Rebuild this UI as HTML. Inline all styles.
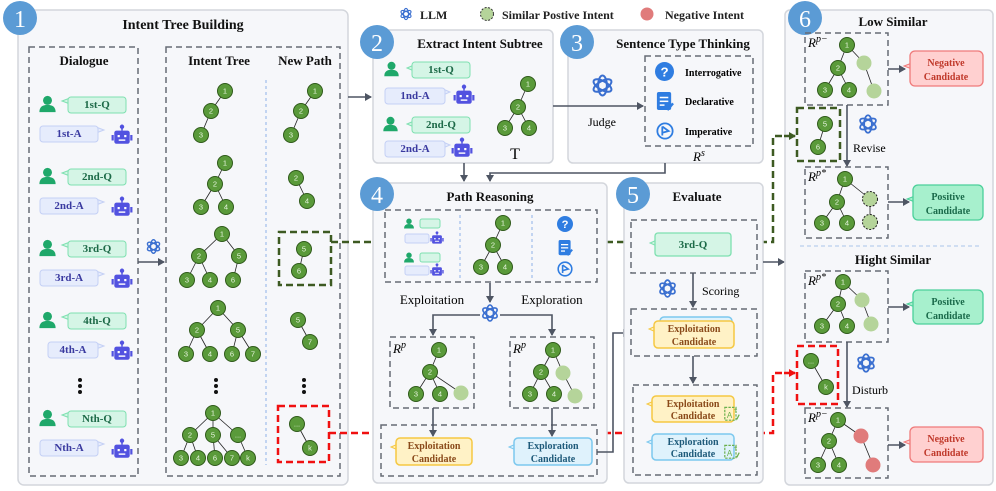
<!DOCTYPE html>
<html><head><meta charset="utf-8"><style>
body{margin:0;background:#fff}
svg{display:block;font-family:"Liberation Serif",serif}
.t{font-weight:bold;font-size:14px;text-anchor:middle;fill:#111}
.st{font-weight:bold;font-size:13px;text-anchor:middle;fill:#111}
.n{font-size:7.5px;fill:#e8f5e0;text-anchor:middle;dominant-baseline:central;font-family:"Liberation Sans",sans-serif}
.g circle{fill:#5a9a3a;stroke:#2f5a1a;stroke-width:1}
.e line{stroke:#222;stroke-width:.8}
.bq{font-weight:bold;font-size:11px;fill:#1d6a48;text-anchor:middle;dominant-baseline:central}
.ba{font-weight:bold;font-size:11px;fill:#3a3aa0;text-anchor:middle;dominant-baseline:central}
.by{font-weight:bold;font-size:10px;fill:#8a4a1a;text-anchor:middle}
.bb{font-weight:bold;font-size:10px;fill:#1e5a7a;text-anchor:middle}
.br{font-weight:bold;font-size:10px;fill:#c0392b;text-anchor:middle}
.bg{font-weight:bold;font-size:10px;fill:#1a6a4a;text-anchor:middle}
.dash{fill:none;stroke:#666b75;stroke-width:1.5;stroke-dasharray:6 4}
.pan{fill:#f6f7fa;stroke:#d3d6dc;stroke-width:1.5}
.bd{fill:#5b9bd5}
.bdt{fill:#fff;font-size:24px;text-anchor:middle;font-family:"Liberation Serif",serif}
.ar{stroke:#4e5563;stroke-width:1.6;fill:none;marker-end:url(#ah)}
.lb{font-size:12px;fill:#222}
.rp{font-size:13px;font-style:italic}
.rp tspan{font-size:10px}
</style></head><body>
<svg width="996" height="491" viewBox="0 0 996 491" xmlns="http://www.w3.org/2000/svg">
<defs>
<marker id="ah" markerWidth="8" markerHeight="8" refX="6" refY="4" orient="auto" markerUnits="userSpaceOnUse"><path d="M0,0 L7,4 L0,8 z" fill="#4e5563"/></marker>
<marker id="ag" markerWidth="8" markerHeight="8" refX="6" refY="4" orient="auto" markerUnits="userSpaceOnUse"><path d="M0,0 L7,4 L0,8 z" fill="#3d5a22"/></marker>
<marker id="ar" markerWidth="8" markerHeight="8" refX="6" refY="4" orient="auto" markerUnits="userSpaceOnUse"><path d="M0,0 L7,4 L0,8 z" fill="#f01010"/></marker>
<symbol id="person" viewBox="0 0 20 20"><circle cx="10" cy="6" r="5" fill="#1fa86a"/><path d="M1,19 Q1,11 10,11 Q19,11 19,19 z" fill="#1fa86a"/></symbol>
<symbol id="robot" viewBox="0 0 20 20"><circle cx="10" cy="2.5" r="2" fill="#5252e0"/><rect x="9.3" y="3" width="1.4" height="3" fill="#5252e0"/><rect x="3" y="6" width="14" height="12" rx="2" fill="#5252e0"/><rect x="0.5" y="10" width="2" height="5" fill="#5252e0"/><rect x="17.5" y="10" width="2" height="5" fill="#5252e0"/><rect x="6" y="10" width="2" height="2" fill="#fff"/><rect x="12" y="10" width="2" height="2" fill="#fff"/><rect x="7" y="14" width="6" height="1.3" fill="#fff"/></symbol>
<symbol id="llm" viewBox="0 0 20 20"><g fill="none" stroke="#3a6fd0" stroke-width="1.6"><ellipse cx="10" cy="10" rx="3.5" ry="8" /><ellipse cx="10" cy="10" rx="3.5" ry="8" transform="rotate(60 10 10)"/><ellipse cx="10" cy="10" rx="3.5" ry="8" transform="rotate(120 10 10)"/></g></symbol>
<symbol id="qi" viewBox="0 0 20 20"><circle cx="10" cy="10" r="10" fill="#2f7de1"/><text x="10" y="15" font-size="14" font-weight="bold" fill="#fff" text-anchor="middle" font-family="Liberation Sans">?</text></symbol>
<symbol id="di" viewBox="0 0 20 20"><rect x="2" y="0" width="15" height="19" rx="2" fill="#2f7de1"/><rect x="5" y="5" width="9" height="1.6" fill="#fff"/><rect x="5" y="9" width="9" height="1.6" fill="#fff"/><rect x="5" y="13" width="5" height="1.6" fill="#fff"/><path d="M13,19 L19,12" stroke="#2f7de1" stroke-width="2.5"/></symbol>
<symbol id="ii" viewBox="0 0 20 20"><circle cx="10" cy="10" r="8.5" fill="none" stroke="#2f7de1" stroke-width="2"/><path d="M7,5 L7,15 M7,5 L14,10 L7,12" fill="none" stroke="#2f7de1" stroke-width="2"/></symbol>
<symbol id="ai" viewBox="0 0 20 20"><rect x="1" y="3" width="14" height="16" fill="none" stroke="#6ab04c" stroke-width="1.5" stroke-dasharray="3 1.5"/><text x="7" y="16" font-size="10" fill="#6ab04c" font-family="Liberation Sans" text-anchor="middle">A</text><text x="12" y="9" font-size="8" fill="#6ab04c" font-family="Liberation Sans">+</text><path d="M16,18 L19,12" stroke="#6ab04c" stroke-width="1.6"/></symbol>
</defs>

<!-- Legend -->
<use href="#llm" x="399" y="7" width="14" height="14"/><text x="420" y="19" class="lb" font-weight="bold" font-size="12">LLM</text>
<circle cx="487" cy="14" r="6.5" fill="#b5d49a" stroke="#333" stroke-dasharray="2 1.5"/><text x="502" y="19" class="lb" font-weight="bold">Similar Postive Intent</text>
<circle cx="647" cy="14" r="6.5" fill="#e07b7b"/><text x="665" y="19" class="lb" font-weight="bold">Negative Intent</text>

<!-- Panel 1 -->
<rect x="18" y="10" width="330" height="475" rx="6" class="pan"/>
<circle cx="20" cy="18" r="17" class="bd"/><text x="20" y="27" class="bdt">1</text>
<text x="183" y="29" class="t">Intent Tree Building</text>
<rect x="29" y="47" width="109" height="429" class="dash"/>
<rect x="166" y="47" width="174" height="429" class="dash"/>
<text x="84" y="65" class="st">Dialogue</text>
<text x="219" y="65" class="st">Intent Tree</text>
<text x="305" y="65" class="st">New Path</text>
<line x1="266" y1="80" x2="266" y2="465" stroke="#8fb2e8" stroke-dasharray="3 3"/>

<g><use href="#person" x="38" y="95" width="19" height="18"/><polygon points="70,98 62,101 70,104" fill="#d5f5e6" stroke="#7ee0b0"/><rect x="68" y="97" width="58" height="16" rx="3" fill="#d5f5e6" stroke="#7ee0b0"/><text x="97" y="105" class="bq">1st-Q</text>
<polygon points="96,127 104,130 96,133" fill="#e6ecfc" stroke="#c4d0f5"/><rect x="40" y="126" width="58" height="16" rx="3" fill="#e6ecfc" stroke="#c4d0f5"/><text x="69" y="134" class="ba">1st-A</text><use href="#robot" x="111" y="124" width="22" height="22"/></g>
<g transform="translate(0,72)"><use href="#person" x="38" y="95" width="19" height="18"/><polygon points="70,98 62,101 70,104" fill="#d5f5e6" stroke="#7ee0b0"/><rect x="68" y="97" width="58" height="16" rx="3" fill="#d5f5e6" stroke="#7ee0b0"/><text x="97" y="105" class="bq">2nd-Q</text>
<polygon points="96,127 104,130 96,133" fill="#e6ecfc" stroke="#c4d0f5"/><rect x="40" y="126" width="58" height="16" rx="3" fill="#e6ecfc" stroke="#c4d0f5"/><text x="69" y="134" class="ba">2nd-A</text><use href="#robot" x="111" y="124" width="22" height="22"/></g>
<g transform="translate(0,144)"><use href="#person" x="38" y="95" width="19" height="18"/><polygon points="70,98 62,101 70,104" fill="#d5f5e6" stroke="#7ee0b0"/><rect x="68" y="97" width="58" height="16" rx="3" fill="#d5f5e6" stroke="#7ee0b0"/><text x="97" y="105" class="bq">3rd-Q</text>
<polygon points="96,127 104,130 96,133" fill="#e6ecfc" stroke="#c4d0f5"/><rect x="40" y="126" width="58" height="16" rx="3" fill="#e6ecfc" stroke="#c4d0f5"/><text x="69" y="134" class="ba">3rd-A</text><use href="#robot" x="111" y="124" width="22" height="22"/></g>
<g transform="translate(0,216)"><use href="#person" x="38" y="95" width="19" height="18"/><polygon points="70,98 62,101 70,104" fill="#d5f5e6" stroke="#7ee0b0"/><rect x="68" y="97" width="58" height="16" rx="3" fill="#d5f5e6" stroke="#7ee0b0"/><text x="97" y="105" class="bq">4th-Q</text>
<polygon points="96,127 104,130 96,133" fill="#e6ecfc" stroke="#c4d0f5"/><rect x="48" y="126" width="50" height="16" rx="3" fill="#e6ecfc" stroke="#c4d0f5"/><text x="73" y="134" class="ba">4th-A</text><use href="#robot" x="111" y="124" width="22" height="22"/></g>
<g transform="translate(0,314)"><use href="#person" x="38" y="95" width="19" height="18"/><polygon points="70,98 62,101 70,104" fill="#d5f5e6" stroke="#7ee0b0"/><rect x="68" y="97" width="58" height="16" rx="3" fill="#d5f5e6" stroke="#7ee0b0"/><text x="97" y="105" class="bq">Nth-Q</text>
<polygon points="96,127 104,130 96,133" fill="#e6ecfc" stroke="#c4d0f5"/><rect x="40" y="126" width="58" height="16" rx="3" fill="#e6ecfc" stroke="#c4d0f5"/><text x="69" y="134" class="ba">Nth-A</text><use href="#robot" x="111" y="124" width="22" height="22"/></g>
<g fill="#111"><circle cx="80" cy="380" r="2"/><circle cx="80" cy="386" r="2"/><circle cx="80" cy="392" r="2"/>
<circle cx="216" cy="380" r="2"/><circle cx="216" cy="386" r="2"/><circle cx="216" cy="392" r="2"/>
<circle cx="304" cy="380" r="2"/><circle cx="304" cy="386" r="2"/><circle cx="304" cy="392" r="2"/></g>
<use href="#llm" x="145" y="238" width="17" height="17"/>
<line x1="138" y1="262" x2="164" y2="262" class="ar"/>

<g class="e">
<line x1="225" y1="91" x2="211" y2="111"/><line x1="211" y1="111" x2="201" y2="135"/>
<line x1="225" y1="163" x2="215" y2="184"/><line x1="215" y1="184" x2="201" y2="207"/><line x1="215" y1="184" x2="226" y2="207"/>
<line x1="222" y1="234" x2="199" y2="256"/><line x1="222" y1="234" x2="239" y2="256"/><line x1="199" y1="256" x2="187" y2="280"/><line x1="199" y1="256" x2="210" y2="280"/><line x1="239" y1="256" x2="233" y2="280"/>
<line x1="218" y1="308" x2="197" y2="330"/><line x1="218" y1="308" x2="238" y2="330"/><line x1="197" y1="330" x2="186" y2="354"/><line x1="197" y1="330" x2="210" y2="354"/><line x1="238" y1="330" x2="232" y2="354"/><line x1="238" y1="330" x2="253" y2="354"/>
<line x1="213" y1="413" x2="190" y2="435"/><line x1="213" y1="413" x2="213" y2="435"/><line x1="213" y1="413" x2="238" y2="435"/><line x1="190" y1="435" x2="181" y2="458"/><line x1="190" y1="435" x2="198" y2="458"/><line x1="213" y1="435" x2="215" y2="458"/><line x1="213" y1="435" x2="232" y2="458"/><line x1="238" y1="435" x2="248" y2="458"/>
<line x1="315" y1="91" x2="301" y2="111"/><line x1="301" y1="111" x2="291" y2="135"/>
<line x1="296" y1="178" x2="307" y2="201"/><line x1="304" y1="249" x2="299" y2="271"/><line x1="298" y1="320" x2="310" y2="342"/><line x1="297" y1="424" x2="310" y2="448"/>
</g>
<g class="g">
<circle cx="225" cy="91" r="7.5"/><circle cx="211" cy="111" r="7.5"/><circle cx="201" cy="135" r="7.5"/>
<circle cx="225" cy="163" r="7.5"/><circle cx="215" cy="184" r="7.5"/><circle cx="201" cy="207" r="7.5"/><circle cx="226" cy="207" r="7.5"/>
<circle cx="222" cy="234" r="7.5"/><circle cx="199" cy="256" r="7.5"/><circle cx="239" cy="256" r="7.5"/><circle cx="187" cy="280" r="7.5"/><circle cx="210" cy="280" r="7.5"/><circle cx="233" cy="280" r="7.5"/>
<circle cx="218" cy="308" r="7.5"/><circle cx="197" cy="330" r="7.5"/><circle cx="238" cy="330" r="7.5"/><circle cx="186" cy="354" r="7.5"/><circle cx="210" cy="354" r="7.5"/><circle cx="232" cy="354" r="7.5"/><circle cx="253" cy="354" r="7.5"/>
<circle cx="213" cy="413" r="7.5"/><circle cx="190" cy="435" r="7.5"/><circle cx="213" cy="435" r="7.5"/><circle cx="238" cy="435" r="7.5"/><circle cx="181" cy="458" r="7.5"/><circle cx="198" cy="458" r="7.5"/><circle cx="215" cy="458" r="7.5"/><circle cx="232" cy="458" r="7.5"/><circle cx="248" cy="458" r="7.5"/>
<circle cx="315" cy="91" r="7.5"/><circle cx="301" cy="111" r="7.5"/><circle cx="291" cy="135" r="7.5"/>
<circle cx="296" cy="178" r="7.5"/><circle cx="307" cy="201" r="7.5"/>
<circle cx="304" cy="249" r="7.5"/><circle cx="299" cy="271" r="7.5"/>
<circle cx="298" cy="320" r="7.5"/><circle cx="310" cy="342" r="7.5"/>
<circle cx="297" cy="424" r="7.5"/><circle cx="310" cy="448" r="7.5"/>
</g>
<g class="n">
<text x="225" y="91">1</text><text x="211" y="111">2</text><text x="201" y="135">3</text>
<text x="225" y="163">1</text><text x="215" y="184">2</text><text x="201" y="207">3</text><text x="226" y="207">4</text>
<text x="222" y="234">1</text><text x="199" y="256">2</text><text x="239" y="256">5</text><text x="187" y="280">3</text><text x="210" y="280">4</text><text x="233" y="280">6</text>
<text x="218" y="308">1</text><text x="197" y="330">2</text><text x="238" y="330">5</text><text x="186" y="354">3</text><text x="210" y="354">4</text><text x="232" y="354">6</text><text x="253" y="354">7</text>
<text x="213" y="413">1</text><text x="190" y="435">2</text><text x="213" y="435">5</text><text x="238" y="435">...</text><text x="181" y="458">3</text><text x="198" y="458">4</text><text x="215" y="458">6</text><text x="232" y="458">7</text><text x="248" y="458">k</text>
<text x="315" y="91">1</text><text x="301" y="111">2</text><text x="291" y="135">3</text>
<text x="296" y="178">2</text><text x="307" y="201">4</text>
<text x="304" y="249">5</text><text x="299" y="271">6</text>
<text x="298" y="320">5</text><text x="310" y="342">7</text>
<text x="297" y="424">...</text><text x="310" y="448">k</text>
</g>
<rect x="279" y="232" width="52" height="53" fill="none" stroke="#3d5a22" stroke-width="2.5" stroke-dasharray="7 4"/>
<rect x="278" y="406" width="51" height="56" fill="none" stroke="#f01010" stroke-width="2.5" stroke-dasharray="7 4"/>

<!-- dashed connectors (behind later panels) -->
<polyline points="331,242 773,242 773,136 786,136" fill="none" stroke="#3d5a22" stroke-width="2.5" stroke-dasharray="7 4"/>
<polyline points="329,433 773,433 773,373 786,373" fill="none" stroke="#f01010" stroke-width="2.5" stroke-dasharray="7 4"/>

<line x1="348" y1="97" x2="371" y2="97" class="ar"/>

<!-- Panel 2 -->
<rect x="373" y="30" width="180" height="133" rx="5" class="pan"/>
<circle cx="377" cy="42" r="17" class="bd"/><text x="377" y="51" class="bdt">2</text>
<text x="480" y="48" class="st">Extract Intent Subtree</text>
<use href="#person" x="383" y="61" width="17" height="16"/><polygon points="414,65 407,68 414,71" fill="#d5f5e6" stroke="#7ee0b0"/><rect x="412" y="62" width="58" height="16" rx="3" fill="#d5f5e6" stroke="#7ee0b0"/><text x="441" y="70" class="bq">1st-Q</text>
<polygon points="443,89 450,92 443,95" fill="#e6ecfc" stroke="#c4d0f5"/><rect x="385" y="88" width="60" height="16" rx="3" fill="#e6ecfc" stroke="#c4d0f5"/><text x="415" y="96" class="ba">1nd-A</text><use href="#robot" x="453" y="84" width="22" height="22"/>
<use href="#person" x="382" y="116" width="17" height="16"/><polygon points="414,121 407,124 414,127" fill="#d5f5e6" stroke="#7ee0b0"/><rect x="412" y="117" width="58" height="16" rx="3" fill="#d5f5e6" stroke="#7ee0b0"/><text x="441" y="125" class="bq">2nd-Q</text>
<polygon points="443,142 450,145 443,148" fill="#e6ecfc" stroke="#c4d0f5"/><rect x="385" y="141" width="60" height="16" rx="3" fill="#e6ecfc" stroke="#c4d0f5"/><text x="415" y="149" class="ba">2nd-A</text><use href="#robot" x="451" y="137" width="22" height="22"/>
<g class="e"><line x1="528" y1="84" x2="518" y2="107"/><line x1="518" y1="107" x2="505" y2="128"/><line x1="518" y1="107" x2="529" y2="128"/></g>
<g class="g"><circle cx="528" cy="84" r="7.5"/><circle cx="518" cy="107" r="7.5"/><circle cx="505" cy="128" r="7.5"/><circle cx="529" cy="128" r="7.5"/></g>
<g class="n"><text x="528" y="84">1</text><text x="518" y="107">2</text><text x="505" y="128">3</text><text x="529" y="128">4</text></g>
<text x="515" y="159" font-size="16" text-anchor="middle">T</text>

<!-- Panel 3 -->
<rect x="568" y="30" width="195" height="133" rx="5" class="pan"/>
<circle cx="577" cy="42" r="17" class="bd"/><text x="577" y="51" class="bdt">3</text>
<text x="683" y="48" class="st">Sentence Type Thinking</text>
<use href="#llm" x="590" y="73" width="25" height="25"/>
<text x="602" y="126" font-size="12" text-anchor="middle">Judge</text>
<line x1="553" y1="106" x2="643" y2="106" class="ar"/>
<rect x="645" y="56" width="108" height="90" class="dash"/>
<use href="#qi" x="655" y="62" width="19" height="19"/><text x="685" y="76" font-size="10" font-weight="bold">Interrogative</text>
<use href="#di" x="655" y="92" width="19" height="19"/><text x="685" y="105" font-size="10" font-weight="bold">Declarative</text>
<use href="#ii" x="656" y="122" width="18" height="18"/><text x="685" y="135" font-size="10" font-weight="bold">Imperative</text>
<text x="693" y="161" class="rp">R<tspan dy="-5">s</tspan></text>

<line x1="464" y1="163" x2="464" y2="181" class="ar"/>
<polyline points="665,163 665,173 490,173 490,181" class="ar"/>

<!-- Panel 4 -->
<rect x="373" y="183" width="234" height="300" rx="5" class="pan"/>
<circle cx="377" cy="194" r="17" class="bd"/><text x="377" y="203" class="bdt">4</text>
<text x="490" y="201" class="st">Path Reasoning</text>
<rect x="385" y="210" width="212" height="72" class="dash"/>
<line x1="460" y1="215" x2="460" y2="278" stroke="#8fb2e8" stroke-dasharray="3 3"/>
<line x1="532" y1="215" x2="532" y2="278" stroke="#8fb2e8" stroke-dasharray="3 3"/>
<g><use href="#person" x="403" y="218" width="12" height="11"/><rect x="420" y="219" width="20" height="9" rx="2" fill="#d5f5e6" stroke="#7ee0b0"/>
<rect x="405" y="234" width="24" height="9" rx="2" fill="#e6ecfc" stroke="#c4d0f5"/><use href="#robot" x="430" y="231" width="14" height="14"/>
<use href="#person" x="403" y="252" width="12" height="11"/><rect x="420" y="253" width="20" height="9" rx="2" fill="#d5f5e6" stroke="#7ee0b0"/>
<rect x="405" y="266" width="24" height="9" rx="2" fill="#e6ecfc" stroke="#c4d0f5"/><use href="#robot" x="430" y="263" width="14" height="14"/></g>
<g class="e"><line x1="503" y1="223" x2="493" y2="245"/><line x1="493" y1="245" x2="481" y2="267"/><line x1="493" y1="245" x2="505" y2="267"/></g>
<g class="g"><circle cx="503" cy="223" r="7.5"/><circle cx="493" cy="245" r="7.5"/><circle cx="481" cy="267" r="7.5"/><circle cx="505" cy="267" r="7.5"/></g>
<g class="n"><text x="503" y="223">1</text><text x="493" y="245">2</text><text x="481" y="267">3</text><text x="505" y="267">4</text></g>
<use href="#qi" x="557" y="216" width="16" height="16"/><use href="#di" x="557" y="240" width="16" height="16"/><use href="#ii" x="557" y="261" width="16" height="16"/>
<line x1="490" y1="283" x2="490" y2="302" class="ar"/>
<text x="432" y="304" font-size="13" text-anchor="middle">Exploitation</text>
<text x="552" y="304" font-size="13" text-anchor="middle">Exploration</text>
<polyline points="480,315 433,315 433,335" class="ar"/>
<polyline points="500,315 552,315 552,335" class="ar"/>
<use href="#llm" x="480" y="303" width="20" height="20"/>
<rect x="390" y="337" width="84" height="71" class="dash"/>
<rect x="510" y="337" width="84" height="71" class="dash"/>
<text x="393" y="353" class="rp">R<tspan dy="-5">p</tspan></text>
<text x="513" y="353" class="rp">R<tspan dy="-5">p</tspan></text>
<g class="e"><line x1="439" y1="350" x2="430" y2="372"/><line x1="430" y1="372" x2="416" y2="394"/><line x1="430" y1="372" x2="440" y2="394"/><line x1="430" y1="372" x2="461" y2="393"/>
<line x1="553" y1="350" x2="541" y2="372"/><line x1="553" y1="350" x2="563" y2="373"/><line x1="541" y1="372" x2="530" y2="394"/><line x1="541" y1="372" x2="554" y2="394"/><line x1="563" y1="373" x2="575" y2="396"/></g>
<circle cx="461" cy="393" r="7.5" fill="#b5d49a"/><circle cx="563" cy="373" r="7.5" fill="#b5d49a"/><circle cx="575" cy="396" r="7.5" fill="#b5d49a"/>
<g class="g"><circle cx="439" cy="350" r="7.5"/><circle cx="430" cy="372" r="7.5"/><circle cx="416" cy="394" r="7.5"/><circle cx="440" cy="394" r="7.5"/>
<circle cx="553" cy="350" r="7.5"/><circle cx="541" cy="372" r="7.5"/><circle cx="530" cy="394" r="7.5"/><circle cx="554" cy="394" r="7.5"/></g>
<g class="n"><text x="439" y="350">1</text><text x="430" y="372">2</text><text x="416" y="394">3</text><text x="440" y="394">4</text>
<text x="553" y="350">1</text><text x="541" y="372">2</text><text x="530" y="394">3</text><text x="554" y="394">4</text></g>
<rect x="381" y="425" width="216" height="51" class="dash"/>
<line x1="433" y1="408" x2="433" y2="436" class="ar"/>
<line x1="552" y1="408" x2="552" y2="436" class="ar"/>
<polygon points="398,444 391,447 398,450" fill="#fff2c6" stroke="#f5c842"/><rect x="396" y="438" width="76" height="27" rx="4" fill="#fff2c6" stroke="#f5c842" stroke-width="1.5"/>
<text x="434" y="449" class="by">Exploitation</text><text x="434" y="462" class="by">Candidate</text>
<polygon points="516,444 509,447 516,450" fill="#dff2fc" stroke="#7cc8ee"/><rect x="514" y="438" width="78" height="27" rx="4" fill="#dff2fc" stroke="#7cc8ee" stroke-width="1.5"/>
<text x="553" y="449" class="bb">Exploration</text><text x="553" y="462" class="bb">Candidate</text>
<polyline points="597,452 613,452 613,333 629,333" class="ar"/>

<!-- Panel 5 -->
<rect x="624" y="183" width="139" height="300" rx="5" class="pan"/>
<circle cx="633" cy="194" r="17" class="bd"/><text x="633" y="203" class="bdt">5</text>
<text x="697" y="201" class="st">Evaluate</text>
<rect x="631" y="220" width="126" height="53" class="dash"/>
<polygon points="657,240 650,243 657,246" fill="#d5f5e6" stroke="#7ee0b0"/><rect x="655" y="233" width="76" height="23" rx="3" fill="#d5f5e6" stroke="#7ee0b0" stroke-width="1.3"/><text x="693" y="245" class="bq">3rd-Q</text>
<line x1="693" y1="273" x2="693" y2="307" class="ar"/>
<use href="#llm" x="657" y="278" width="21" height="21"/>
<text x="702" y="295" font-size="12">Scoring</text>
<rect x="631" y="309" width="126" height="47" class="dash"/>
<rect x="660" y="317" width="72" height="28" rx="4" fill="#dff2fc" stroke="#7cc8ee" stroke-width="1.5"/>
<polygon points="656,326 649,329 656,332" fill="#fff2c6" stroke="#f5c842"/><rect x="654" y="321" width="80" height="27" rx="4" fill="#fff2c6" stroke="#f5c842" stroke-width="1.5"/>
<text x="694" y="332" class="by">Exploitation</text><text x="694" y="345" class="by">Candidate</text>
<line x1="693" y1="356" x2="693" y2="383" class="ar"/>
<rect x="633" y="385" width="124" height="90" class="dash"/>
<polygon points="654,401 647,404 654,407" fill="#fff2c6" stroke="#f5c842"/><rect x="652" y="396" width="82" height="26" rx="4" fill="#fff2c6" stroke="#f5c842" stroke-width="1.5"/>
<text x="693" y="407" class="by">Exploitation</text><text x="693" y="419" class="by">Candidate</text>
<polygon points="654,439 647,442 654,445" fill="#dff2fc" stroke="#7cc8ee"/><rect x="652" y="434" width="82" height="26" rx="4" fill="#dff2fc" stroke="#7cc8ee" stroke-width="1.5"/>
<text x="693" y="445" class="bb">Exploration</text><text x="693" y="457" class="bb">Candidate</text>
<use href="#ai" x="724" y="405" width="16" height="16"/><use href="#ai" x="724" y="443" width="16" height="16"/>
<line x1="763" y1="262" x2="784" y2="262" class="ar"/>

<!-- Panel 6 -->
<rect x="785" y="10" width="208" height="475" rx="5" class="pan"/>
<circle cx="805" cy="18" r="17" class="bd"/><text x="805" y="27" class="bdt">6</text>
<text x="893" y="26" class="st">Low Similar</text>
<line x1="784" y1="136" x2="795" y2="136" stroke="#3d5a22" stroke-width="2.5" marker-end="url(#ag)"/>
<line x1="784" y1="373" x2="795" y2="373" stroke="#f01010" stroke-width="2.5" marker-end="url(#ar)"/>
<rect x="805" y="33" width="83" height="72" class="dash"/>
<rect x="805" y="167" width="83" height="71" class="dash"/>
<rect x="805" y="271" width="83" height="71" class="dash"/>
<rect x="805" y="408" width="83" height="70" class="dash"/>
<text x="808" y="47" class="rp">R<tspan dy="-5">p−</tspan></text>
<text x="808" y="181" class="rp">R<tspan dy="-5">p*</tspan></text>
<text x="808" y="285" class="rp">R<tspan dy="-5">p*</tspan></text>
<text x="808" y="422" class="rp">R<tspan dy="-5">p−</tspan></text>
<line x1="888" y1="69" x2="905" y2="69" class="ar"/>
<line x1="888" y1="202" x2="909" y2="202" class="ar"/>
<line x1="888" y1="307" x2="909" y2="307" class="ar"/>
<line x1="888" y1="445" x2="905" y2="445" class="ar"/>
<polygon points="912,63 904,66 912,69" fill="#ffd0d0" stroke="#ef7a7a"/><rect x="910" y="51" width="73" height="35" rx="5" fill="#ffd0d0" stroke="#ef7a7a" stroke-width="1.3"/><text x="946" y="66" class="br">Negative</text><text x="946" y="80" class="br">Candidate</text>
<polygon points="915,196 907,199 915,202" fill="#a7f0cd" stroke="#4bd09a"/><rect x="913" y="185" width="70" height="35" rx="5" fill="#a7f0cd" stroke="#4bd09a" stroke-width="1.3"/><text x="948" y="200" class="bg">Positive</text><text x="948" y="214" class="bg">Candidate</text>
<polygon points="915,301 907,304 915,307" fill="#a7f0cd" stroke="#4bd09a"/><rect x="913" y="290" width="70" height="34" rx="5" fill="#a7f0cd" stroke="#4bd09a" stroke-width="1.3"/><text x="948" y="305" class="bg">Positive</text><text x="948" y="319" class="bg">Candidate</text>
<polygon points="912,439 904,442 912,445" fill="#ffd0d0" stroke="#ef7a7a"/><rect x="910" y="427" width="73" height="35" rx="5" fill="#ffd0d0" stroke="#ef7a7a" stroke-width="1.3"/><text x="946" y="442" class="br">Negative</text><text x="946" y="456" class="br">Candidate</text>
<rect x="797" y="108" width="43" height="53" fill="none" stroke="#3d5a22" stroke-width="2.5" stroke-dasharray="7 4"/>
<rect x="797" y="346" width="41" height="58" fill="none" stroke="#f01010" stroke-width="2.5" stroke-dasharray="7 4"/>
<line x1="847" y1="105" x2="847" y2="166" class="ar"/>
<line x1="847" y1="342" x2="847" y2="407" class="ar"/>
<use href="#llm" x="857" y="113" width="22" height="22"/><text x="853" y="152" font-size="12">Revise</text>
<use href="#llm" x="855" y="352" width="22" height="22"/><text x="852" y="394" font-size="12">Disturb</text>
<line x1="800" y1="246" x2="982" y2="246" stroke="#a9c4ea" stroke-dasharray="4 3"/>
<text x="893" y="264" class="st">Hight Similar</text>
<g class="e">
<line x1="847" y1="45" x2="838" y2="68"/><line x1="847" y1="45" x2="864" y2="63"/><line x1="838" y1="68" x2="825" y2="90"/><line x1="838" y1="68" x2="849" y2="90"/><line x1="864" y1="63" x2="874" y2="91"/>
<line x1="825" y1="124" x2="818" y2="147"/>
<line x1="845" y1="179" x2="837" y2="202"/><line x1="845" y1="179" x2="870" y2="199"/><line x1="837" y1="202" x2="822" y2="223"/><line x1="837" y1="202" x2="847" y2="223"/><line x1="870" y1="199" x2="870" y2="222"/>
<line x1="843" y1="282" x2="838" y2="304"/><line x1="843" y1="282" x2="862" y2="300"/><line x1="838" y1="304" x2="822" y2="326"/><line x1="838" y1="304" x2="847" y2="326"/><line x1="862" y1="300" x2="871" y2="324"/>
<line x1="811" y1="361" x2="826" y2="387"/>
<line x1="838" y1="420" x2="829" y2="441"/><line x1="838" y1="420" x2="861" y2="436"/><line x1="829" y1="441" x2="818" y2="465"/><line x1="829" y1="441" x2="839" y2="465"/><line x1="861" y1="436" x2="873" y2="465"/>
</g>
<g fill="#b5d49a"><circle cx="864" cy="63" r="7.5"/><circle cx="874" cy="91" r="7.5"/><circle cx="862" cy="300" r="7.5"/><circle cx="871" cy="324" r="7.5"/></g>
<g fill="#b5d49a" stroke="#222" stroke-dasharray="2 1.5"><circle cx="870" cy="199" r="7.5"/><circle cx="870" cy="222" r="7.5"/></g>
<g fill="#e07b7b"><circle cx="861" cy="436" r="7.5"/><circle cx="873" cy="465" r="7.5"/></g>
<g class="g">
<circle cx="847" cy="45" r="7.5"/><circle cx="838" cy="68" r="7.5"/><circle cx="825" cy="90" r="7.5"/><circle cx="849" cy="90" r="7.5"/>
<circle cx="825" cy="124" r="7.5"/><circle cx="818" cy="147" r="7.5"/>
<circle cx="845" cy="179" r="7.5"/><circle cx="837" cy="202" r="7.5"/><circle cx="822" cy="223" r="7.5"/><circle cx="847" cy="223" r="7.5"/>
<circle cx="843" cy="282" r="7.5"/><circle cx="838" cy="304" r="7.5"/><circle cx="822" cy="326" r="7.5"/><circle cx="847" cy="326" r="7.5"/>
<circle cx="811" cy="361" r="7.5"/><circle cx="826" cy="387" r="7.5"/>
<circle cx="838" cy="420" r="7.5"/><circle cx="829" cy="441" r="7.5"/><circle cx="818" cy="465" r="7.5"/><circle cx="839" cy="465" r="7.5"/>
</g>
<g class="n">
<text x="847" y="45">1</text><text x="838" y="68">2</text><text x="825" y="90">3</text><text x="849" y="90">4</text>
<text x="825" y="124">5</text><text x="818" y="147">6</text>
<text x="845" y="179">1</text><text x="837" y="202">2</text><text x="822" y="223">3</text><text x="847" y="223">4</text>
<text x="843" y="282">1</text><text x="838" y="304">2</text><text x="822" y="326">3</text><text x="847" y="326">4</text>
<text x="811" y="361">...</text><text x="826" y="387">k</text>
<text x="838" y="420">1</text><text x="829" y="441">2</text><text x="818" y="465">3</text><text x="839" y="465">4</text>
</g>
</svg>
</body></html>
